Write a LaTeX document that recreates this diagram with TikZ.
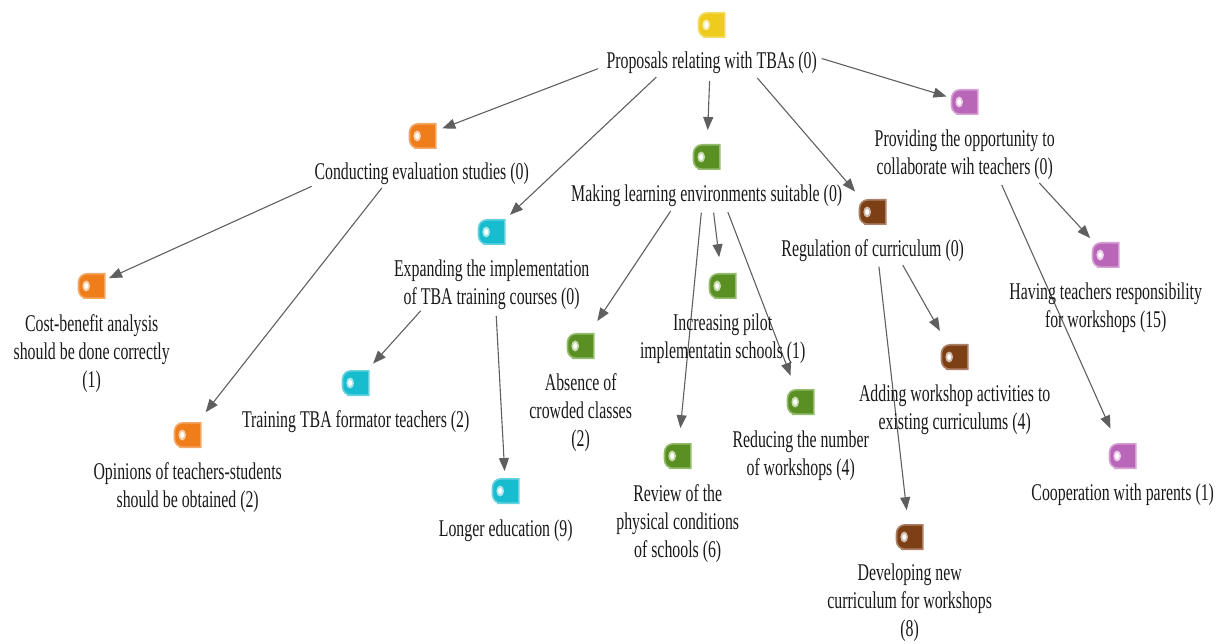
\documentclass[tikz,border=0pt]{standalone}
\usepackage{fontspec}
\setmainfont[FakeStretch=0.66]{Liberation Serif}
\usetikzlibrary{arrows.meta}
\definecolor{edgec}{HTML}{5F5F5F}
\definecolor{yelF}{HTML}{EECB1C}\definecolor{yelL}{HTML}{F3DC66}
\definecolor{oraF}{HTML}{EE7D1A}\definecolor{oraL}{HTML}{F3A866}
\definecolor{teaF}{HTML}{18BCCF}\definecolor{teaL}{HTML}{66D2DF}
\definecolor{greF}{HTML}{5A8F23}\definecolor{greL}{HTML}{94BC6C}
\definecolor{broF}{HTML}{7D3F14}\definecolor{broL}{HTML}{AB8066}
\definecolor{purF}{HTML}{B966B8}\definecolor{purL}{HTML}{D6A0D5}
\tikzset{
  iconbox/.style={inner sep=0pt,minimum width=26pt,minimum height=24pt},
  lab/.style={inner sep=0pt,align=center,text=black!90,font=\fontsize{24}{28}\selectfont},
  arr/.style={draw=edgec,line width=1.1pt,-{Triangle[length=13pt,width=10pt,fill=edgec]}}
}
\newcommand\iconnode[4]{%
  \node[iconbox] (#1) at (#2+0.7,#3) {};
  \draw[fill=#4F,draw=#4L,line width=1.6pt,rounded corners=8.5pt]
    (#1.north) -- (#1.north west) -- (#1.south west) -- (#1.south) [sharp corners] -- (#1.south east) -- (#1.north east) -- cycle;
  \fill[#4L!55!white] ([xshift=-5.5pt]#1.center) ellipse (3.8pt and 5.5pt);
  \fill[white] ([xshift=-5.5pt]#1.center) ellipse (2pt and 3pt);
}
\newcommand\edgeline[4]{\draw[arr,shorten <=#3pt,shorten >=#4pt] (#1.center) -- (#2.center);}
\begin{document}
\begin{tikzpicture}[x=1pt,y=-1pt]
\useasboundingbox (0,0) rectangle (1221,644);
\iconnode{rootI}{711}{25}{yel}
\iconnode{condI}{422}{136}{ora}
\iconnode{expI}{491}{232}{tea}
\iconnode{makI}{706}{157}{gre}
\iconnode{regI}{872}{212}{bro}
\iconnode{proI}{964}{102}{pur}
\iconnode{costI}{91}{286}{ora}
\iconnode{opiI}{187}{435}{ora}
\iconnode{traI}{355}{383}{tea}
\iconnode{lonI}{505}{491}{tea}
\iconnode{absI}{580}{346}{gre}
\iconnode{incI}{722}{286}{gre}
\iconnode{redI}{800}{402}{gre}
\iconnode{revI}{677}{456}{gre}
\iconnode{addI}{954}{357}{bro}
\iconnode{devI}{909}{537}{bro}
\iconnode{havI}{1105}{255}{pur}
\iconnode{cooI}{1122}{456}{pur}
\edgeline{rootI}{condI}{122}{21}
\edgeline{rootI}{expI}{76}{25}
\edgeline{rootI}{makI}{56}{27}
\edgeline{rootI}{regI}{70}{27}
\edgeline{rootI}{proI}{115}{19}
\edgeline{condI}{costI}{122}{19}
\edgeline{condI}{opiI}{66}{29}
\edgeline{expI}{traI}{106}{26}
\edgeline{expI}{lonI}{84}{20}
\edgeline{makI}{absI}{65}{30}
\edgeline{makI}{incI}{56}{29}
\edgeline{makI}{redI}{59}{28}
\edgeline{makI}{revI}{56}{28}
\edgeline{regI}{addI}{61}{30}
\edgeline{regI}{devI}{55}{27}
\edgeline{proI}{havI}{110}{23}
\edgeline{proI}{cooI}{91}{30}
\begin{scope}[xshift=0.7pt,yshift=-1.5pt]
\node[lab] (rootL) at (711,61) {Proposals relating with TBAs (0)};
\node[lab] (condL) at (421,172) {Conducting evaluation studies (0)};
\node[lab] (expL) at (491,283) {Expanding the implementation\\of TBA training courses (0)};
\node[lab] (makL) at (706,194) {Making learning environments suitable (0)};
\node[lab] (regL) at (872,249) {Regulation of curriculum (0)};
\node[lab] (proL) at (964,153) {Providing the opportunity to\\collaborate wih teachers (0)};
\node[lab] (costL) at (91,352) {Cost-benefit analysis\\should be done correctly\\(1)};
\node[lab] (opiL) at (187,486) {Opinions of teachers-students\\should be obtained (2)};
\node[lab] (traL) at (355,420) {Training TBA formator teachers (2)};
\node[lab] (lonL) at (505,529) {Longer education (9)};
\node[lab] (absL) at (580,411) {Absence of\\crowded classes\\(2)};
\node[lab] (incL) at (722,337) {Increasing pilot\\implementatin schools (1)};
\node[lab] (redL) at (800,454) {Reducing the number\\of workshops (4)};
\node[lab] (revL) at (677,522) {Review of the\\physical conditions\\of schools (6)};
\node[lab] (addL) at (954,408) {Adding workshop activities to\\existing curriculums (4)};
\node[lab] (devL) at (909,601) {Developing new\\curriculum for workshops\\(8)};
\node[lab] (havL) at (1105,306) {Having teachers responsibility\\for workshops (15)};
\node[lab] (cooL) at (1122,493) {Cooperation with parents (1)};
\end{scope}
\end{tikzpicture}
\end{document}
